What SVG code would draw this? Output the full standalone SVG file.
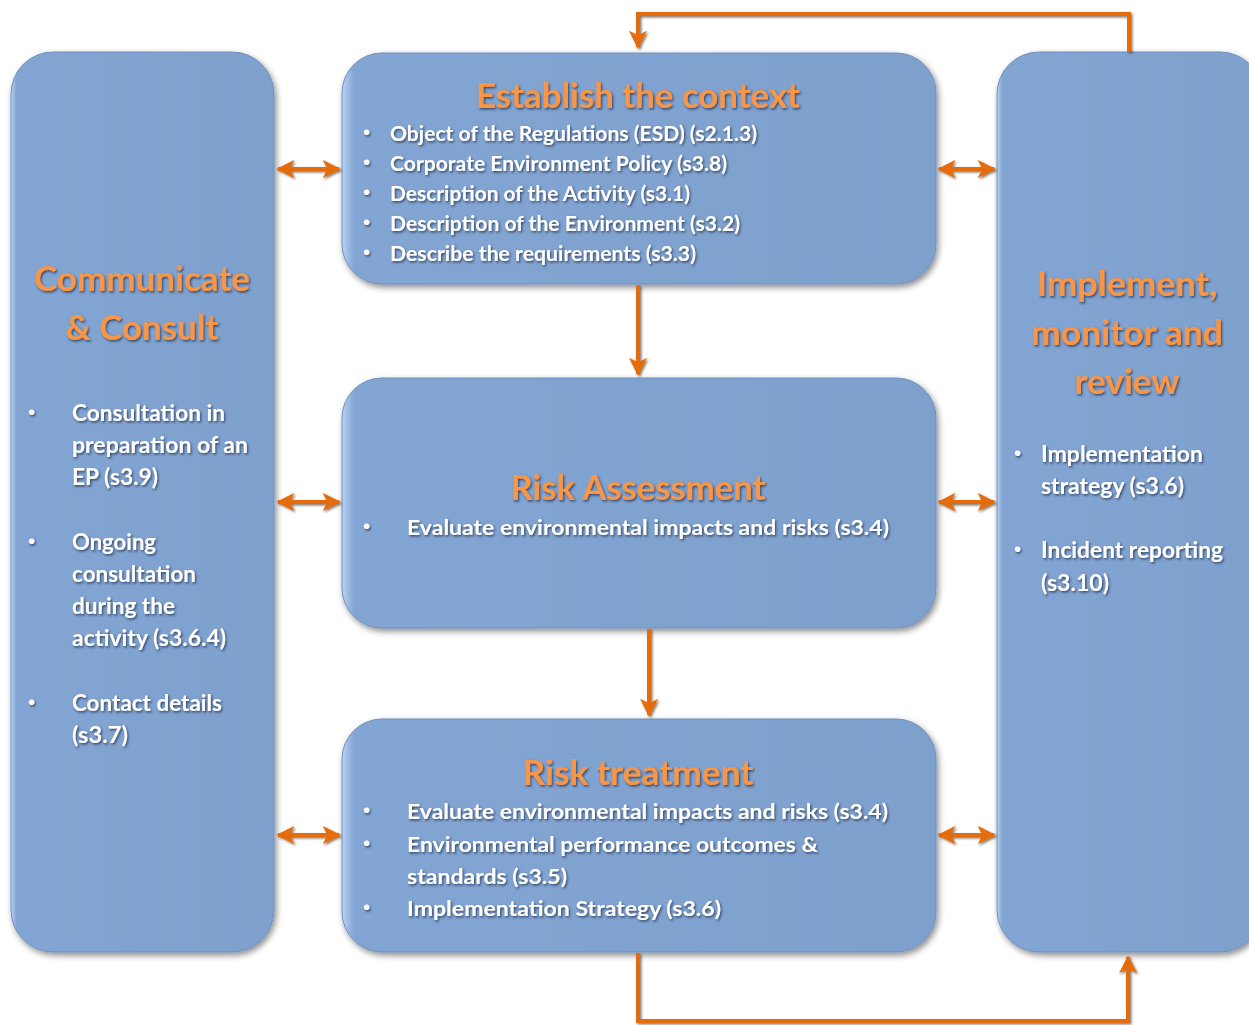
<svg xmlns="http://www.w3.org/2000/svg" width="1249" height="1025" viewBox="0 0 1249 1025">
<defs>
<linearGradient id="boxfill" x1="0" y1="0" x2="1" y2="0">
<stop offset="0" stop-color="#B9D4F5"/>
<stop offset="0.02" stop-color="#83A5D3"/>
<stop offset="1" stop-color="#7EA0CD"/>
</linearGradient>
<filter id="boxshadow" x="-10%" y="-10%" width="125%" height="125%">
<feDropShadow dx="2" dy="3" stdDeviation="3" flood-color="#000" flood-opacity="0.45"/>
</filter>
<filter id="txtshadow" x="-5%" y="-20%" width="115%" height="150%">
<feDropShadow dx="1.2" dy="1.5" stdDeviation="0.8" flood-color="#1b2a44" flood-opacity="0.75"/>
</filter>
<filter id="arrowshadow" filterUnits="userSpaceOnUse" x="0" y="0" width="1249" height="1025">
<feDropShadow dx="1.5" dy="1.5" stdDeviation="1" flood-color="#3a1a00" flood-opacity="0.6"/>
</filter>
<marker id="ah" viewBox="0 0 10 10" refX="9" refY="5" markerWidth="4.5" markerHeight="4.5" orient="auto-start-reverse" markerUnits="strokeWidth">
<path d="M0,0 L10,5 L0,10 L2.5,5 Z" fill="#E46C0A"/>
</marker>
</defs>
<style>
.box{fill:url(#boxfill);stroke:#6F8FBB;stroke-width:1;filter:url(#boxshadow)}
.title{font-family:Lato,"Liberation Sans",sans-serif;font-weight:bold;fill:#F79646;font-size:34px;filter:url(#txtshadow)}
.txt{font-family:Lato,"Liberation Sans",sans-serif;font-weight:bold;fill:#FFFFFF;font-size:21px;filter:url(#txtshadow)}
.side{font-family:Lato,"Liberation Sans",sans-serif;font-weight:bold;fill:#FFFFFF;font-size:22px;filter:url(#txtshadow)}
.dot{font-family:"Liberation Sans",sans-serif;fill:#FFFFFF;font-size:21px;filter:url(#txtshadow)}
.conn{fill:none;stroke:#E46C0A;stroke-width:4;filter:url(#arrowshadow)}
</style>
<rect width="1249" height="1025" fill="#FFFFFF"/>

<g id="communicate-consult">
<rect class="box" x="11" y="52" width="263" height="900" rx="42" ry="42"/>
<text class="title" x="142" y="291" text-anchor="middle" textLength="216" lengthAdjust="spacingAndGlyphs">Communicate</text>
<text class="title" x="142" y="340" text-anchor="middle" textLength="153" lengthAdjust="spacingAndGlyphs">&amp; Consult</text>
<text class="dot" x="28" y="419">•</text>
<text class="side" x="72" y="421" textLength="153" lengthAdjust="spacingAndGlyphs">Consultation in</text>
<text class="side" x="72" y="453" textLength="176" lengthAdjust="spacingAndGlyphs">preparation of an</text>
<text class="side" x="72" y="485" textLength="86" lengthAdjust="spacingAndGlyphs">EP (s3.9)</text>
<text class="dot" x="28" y="548">•</text>
<text class="side" x="72" y="550" textLength="84" lengthAdjust="spacingAndGlyphs">Ongoing</text>
<text class="side" x="72" y="582" textLength="124" lengthAdjust="spacingAndGlyphs">consultation</text>
<text class="side" x="72" y="614" textLength="103" lengthAdjust="spacingAndGlyphs">during the</text>
<text class="side" x="72" y="646" textLength="154" lengthAdjust="spacingAndGlyphs">activity (s3.6.4)</text>
<text class="dot" x="28" y="709">•</text>
<text class="side" x="72" y="711" textLength="150" lengthAdjust="spacingAndGlyphs">Contact details</text>
<text class="side" x="72" y="743" textLength="56" lengthAdjust="spacingAndGlyphs">(s3.7)</text>
</g>

<g id="establish-context">
<rect class="box" x="342" y="53" width="594" height="231" rx="40" ry="40"/>
<text class="title" x="638" y="108" text-anchor="middle" textLength="324" lengthAdjust="spacingAndGlyphs">Establish the context</text>
<text class="dot" x="363" y="139">•</text>
<text class="txt" x="390" y="141" textLength="367" lengthAdjust="spacingAndGlyphs">Object of the Regulations (ESD) (s2.1.3)</text>
<text class="dot" x="363" y="169">•</text>
<text class="txt" x="390" y="171" textLength="337" lengthAdjust="spacingAndGlyphs">Corporate Environment Policy (s3.8)</text>
<text class="dot" x="363" y="199">•</text>
<text class="txt" x="390" y="201" textLength="300" lengthAdjust="spacingAndGlyphs">Description of the Activity (s3.1)</text>
<text class="dot" x="363" y="229">•</text>
<text class="txt" x="390" y="231" textLength="350" lengthAdjust="spacingAndGlyphs">Description of the Environment (s3.2)</text>
<text class="dot" x="363" y="259">•</text>
<text class="txt" x="390" y="261" textLength="306" lengthAdjust="spacingAndGlyphs">Describe the requirements (s3.3)</text>
</g>

<g id="risk-assessment">
<rect class="box" x="342" y="378" width="594" height="250" rx="40" ry="40"/>
<text class="title" x="638" y="500" text-anchor="middle" textLength="255" lengthAdjust="spacingAndGlyphs">Risk Assessment</text>
<text class="dot" x="363" y="533">•</text>
<text class="txt" x="407" y="535" textLength="482" lengthAdjust="spacingAndGlyphs">Evaluate environmental impacts and risks (s3.4)</text>
</g>

<g id="risk-treatment">
<rect class="box" x="342" y="719" width="594" height="233" rx="40" ry="40"/>
<text class="title" x="638" y="785" text-anchor="middle" textLength="231" lengthAdjust="spacingAndGlyphs">Risk treatment</text>
<text class="dot" x="363" y="817">•</text>
<text class="txt" x="407" y="819" textLength="481" lengthAdjust="spacingAndGlyphs">Evaluate environmental impacts and risks (s3.4)</text>
<text class="dot" x="363" y="850">•</text>
<text class="txt" x="407" y="852" textLength="411" lengthAdjust="spacingAndGlyphs">Environmental performance outcomes &amp;</text>
<text class="txt" x="407" y="884" textLength="160" lengthAdjust="spacingAndGlyphs">standards (s3.5)</text>
<text class="dot" x="363" y="914">•</text>
<text class="txt" x="407" y="916" textLength="314" lengthAdjust="spacingAndGlyphs">Implementation Strategy (s3.6)</text>
</g>

<g id="implement-monitor-review">
<rect class="box" x="997" y="52" width="265" height="900" rx="42" ry="42"/>
<text class="title" x="1127" y="296" text-anchor="middle" textLength="181" lengthAdjust="spacingAndGlyphs">Implement,</text>
<text class="title" x="1127" y="345" text-anchor="middle" textLength="192" lengthAdjust="spacingAndGlyphs">monitor and</text>
<text class="title" x="1127" y="394" text-anchor="middle" textLength="105" lengthAdjust="spacingAndGlyphs">review</text>
<text class="dot" x="1014" y="460">•</text>
<text class="side" x="1041" y="462" textLength="162" lengthAdjust="spacingAndGlyphs">Implementation</text>
<text class="side" x="1041" y="494" textLength="143" lengthAdjust="spacingAndGlyphs">strategy (s3.6)</text>
<text class="dot" x="1014" y="556">•</text>
<text class="side" x="1041" y="558" textLength="182" lengthAdjust="spacingAndGlyphs">Incident reporting</text>
<text class="side" x="1041" y="591" textLength="68" lengthAdjust="spacingAndGlyphs">(s3.10)</text>
</g>

<g id="connectors">
<path class="conn" d="M1129,52 V14 H638 V47" marker-end="url(#ah)"/>
<path class="conn" d="M638,285 V374" marker-end="url(#ah)"/>
<path class="conn" d="M649,629 V715" marker-end="url(#ah)"/>
<path class="conn" d="M638,953 V1021 H1128 V957" marker-end="url(#ah)"/>
<path class="conn" d="M278,169 H339" marker-start="url(#ah)" marker-end="url(#ah)"/>
<path class="conn" d="M278,502 H339" marker-start="url(#ah)" marker-end="url(#ah)"/>
<path class="conn" d="M278,835 H339" marker-start="url(#ah)" marker-end="url(#ah)"/>
<path class="conn" d="M939,169 H994" marker-start="url(#ah)" marker-end="url(#ah)"/>
<path class="conn" d="M939,502 H994" marker-start="url(#ah)" marker-end="url(#ah)"/>
<path class="conn" d="M939,835 H994" marker-start="url(#ah)" marker-end="url(#ah)"/>
</g>
</svg>
